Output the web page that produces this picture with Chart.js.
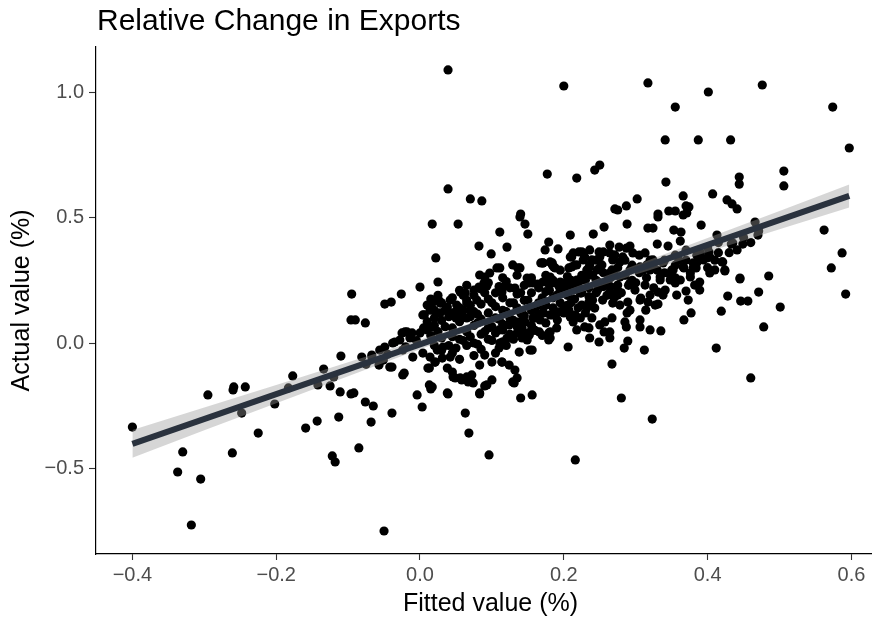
<!DOCTYPE html>
<html>
<head>
<meta charset="utf-8">
<script src="https://cdn.jsdelivr.net/npm/chart.js@4/dist/chart.umd.min.js"></script>
<style>
  html, body { margin: 0; padding: 0; background: #ffffff; overflow: hidden; width: 872px; height: 619px; }
  #wrap { position: absolute; left: 0; top: 0; width: 890px; height: 619px; }
</style>
</head>
<body>
<div id="wrap"><canvas id="chart" width="890" height="619"></canvas></div>
<script>
// Relative change in exports: actual vs fitted values, with a linear fit and its 95% band.

const chartTitle = 'Relative Change in Exports';
const xTitle = 'Fitted value (%)';
const yTitle = 'Actual value (%)';
const xTickValues = [-0.4, -0.2, 0.0, 0.2, 0.4, 0.6];
const yTickValues = [-0.5, 0.0, 0.5, 1.0];

// Scattered observations well above the cloud
const upperTail = [
  [0.039,1.088],[0.200,1.024],[0.177,0.673],[0.218,0.657],[0.243,0.689],[0.250,0.709],
  [0.039,0.614],[0.070,0.574],[0.086,0.566],[0.140,0.514],
  [0.317,1.036],[0.476,1.028],[0.401,1.000],[0.355,0.940],[0.574,0.940],[0.341,0.809],
  [0.387,0.809],[0.432,0.809],[0.597,0.777],[0.342,0.641],[0.506,0.685],[0.506,0.626],
  [0.444,0.661],[0.444,0.633],[0.302,0.574],[0.287,0.546],[0.271,0.534],[0.275,0.530],
  [0.366,0.586],[0.407,0.594],[0.427,0.570],[0.434,0.554],[0.441,0.534],[0.331,0.514],
  [0.346,0.526],[0.355,0.526],[0.370,0.546],[0.374,0.542],[0.371,0.518],[0.366,0.510],
  [0.017,0.474],[0.053,0.474],[0.139,0.502],[0.146,0.474],[0.150,0.434],[0.111,0.442],
  [0.082,0.386],[0.121,0.382],[0.099,0.355],[0.022,0.339],[0.179,0.402],[0.174,0.371],
  [0.192,0.375],[0.209,0.430],[0.241,0.434],[0.256,0.462],[0.288,0.474],[0.317,0.458],
  [0.324,0.458],[0.353,0.450],[0.363,0.442],[0.331,0.502],[0.391,0.470],[0.413,0.430],
  [0.466,0.482],[0.471,0.446],[0.449,0.394],[0.433,0.394],[0.362,0.406],[0.345,0.386],
  [0.330,0.394],[0.313,0.359],[0.287,0.378],[0.264,0.390],[0.441,0.371],[0.435,0.398]
];

// Low-end observations (negative fitted values)
const lowerTail = [
  [-0.400,-0.335],[-0.295,-0.207],[-0.259,-0.175],[-0.260,-0.187],[-0.243,-0.175],
  [-0.183,-0.179],[-0.202,-0.243],[-0.248,-0.279],[-0.225,-0.359],[-0.261,-0.438],
  [-0.330,-0.434],[-0.337,-0.514],[-0.305,-0.542],[-0.318,-0.725],[-0.142,-0.167],
  [-0.125,-0.171],[-0.111,-0.195],[-0.096,-0.203],[-0.159,-0.339],[-0.143,-0.311],
  [-0.113,-0.295],[-0.122,-0.450],[-0.118,-0.474],[-0.177,-0.131],[-0.134,-0.104],
  [-0.110,-0.052],[-0.120,-0.135],[-0.095,0.195],[-0.096,0.092],
  [-0.092,-0.199],[-0.076,-0.235],[-0.065,-0.251],[-0.068,-0.315],[-0.039,-0.279],
  [-0.085,-0.418],[-0.050,-0.749],[-0.004,-0.207],[0.003,-0.255],[0.013,-0.167],
  [0.015,-0.183],[0.039,-0.203],[0.063,-0.279],[0.068,-0.359],[0.083,-0.203],
  [0.090,-0.171],[0.074,-0.159],[0.096,-0.446],[0.131,-0.159],[0.140,-0.219],
  [0.156,-0.207],[0.216,-0.466],[0.280,-0.219],[0.323,-0.303],
  [-0.067,-0.048],[-0.057,-0.088],[-0.049,-0.016],[-0.035,0.004],[-0.021,0.044],
  [-0.011,0.040],[-0.081,-0.056],[-0.039,-0.096],[-0.022,-0.120],
  [-0.040,0.163],[-0.049,0.155],[-0.026,0.195],[0.000,0.223],[0.025,0.243],
  [-0.090,0.092],[-0.076,0.080],[-0.075,-0.085],[-0.045,-0.045],[-0.020,-0.015],[-0.005,0.010],
  [-0.067,-0.056],[-0.056,-0.028],[-0.051,-0.068],[-0.042,-0.096],[-0.038,0.000],
  [-0.025,0.040],[-0.014,0.020],[-0.024,-0.127],[-0.018,0.044]
];

// Central cloud around the fit
const coreCloud = [
  [0.013,-0.100],[0.021,-0.076],[0.031,-0.060],[0.038,-0.100],[0.045,-0.116],[0.049,-0.139],
  [0.058,-0.147],[0.065,-0.135],[0.072,-0.127],[0.083,-0.088],[0.090,-0.048],[0.100,-0.076],
  [0.114,-0.076],[0.124,-0.088],[0.132,-0.108],[0.138,-0.036],[0.129,-0.155],[0.135,-0.139],
  [0.093,-0.167],[0.083,-0.199],[0.100,-0.147],[0.046,-0.135],[0.056,-0.139],[0.067,-0.155],
  [0.011,-0.100],[0.017,-0.175],[0.038,-0.199],[0.021,-0.076],[0.042,-0.056],[0.032,-0.016],
  [0.024,-0.028],[0.014,-0.056],[0.004,-0.040],[-0.010,-0.056],[-0.024,-0.028],[-0.028,0.012],
  [0.000,0.040],[0.010,0.052],[0.018,0.064],[0.004,0.112],[0.014,0.131],[0.028,0.120],
  [0.038,0.143],[0.028,0.159],[0.042,0.171],[0.051,0.151],[0.056,0.112],[0.070,0.131],
  [0.065,0.159],[0.079,0.171],[0.006,0.112],[0.010,0.151],[0.017,0.159],[0.026,0.171],
  [0.075,0.211],[0.082,0.223],[0.093,0.227],[0.056,0.203],[0.063,0.199],[0.115,0.223],
  [0.114,0.203],[0.132,0.219],[0.083,0.271],[0.097,0.279],[0.107,0.299],[0.129,0.311],
  [0.139,0.299],[0.089,0.239],[0.090,0.263],[0.136,0.299],[0.111,0.299],[0.168,0.319],
  [0.181,0.323],[0.186,0.303],[0.207,0.299],[0.171,0.319],[0.184,0.319],[0.188,0.299],
  [0.209,0.343],[0.218,0.311],[0.227,0.359],[0.232,0.291],[0.227,0.251],[0.218,0.239],
  [0.149,0.259],[0.157,0.239],[0.171,0.243],[0.184,0.239],[0.195,0.243],[0.204,0.223],
  [0.213,0.211],[0.223,0.199],[0.152,0.239],[0.164,0.235],[0.178,0.239],[0.193,0.227],
  [0.201,0.235],[0.209,0.239],[0.211,0.343],[0.221,0.363],[0.229,0.343],[0.239,0.331],
  [0.249,0.363],[0.253,0.311],[0.246,0.291],[0.213,0.359],[0.225,0.363],[0.236,0.371],
  [0.255,0.363],[0.264,0.359],[0.277,0.382],[0.292,0.386],[0.171,0.319],[0.184,0.311],
  [0.211,0.303],[0.227,0.331],[0.236,0.311],[0.250,0.343],[0.268,0.331],[0.282,0.343],
  [0.296,0.359],[0.324,0.331],[0.338,0.319],[0.352,0.291],[0.366,0.303],[0.380,0.319],
  [0.394,0.331],[0.403,0.343],[0.420,0.323],[0.424,0.291],[0.445,0.259],[0.421,0.323],
  [0.399,0.339],[0.402,0.363],[0.181,0.263],[0.199,0.239],[0.218,0.251],[0.236,0.271],
  [0.248,0.243],[0.264,0.279],[0.278,0.263],[0.292,0.291],[0.306,0.303],[0.320,0.291],
  [0.334,0.263],[0.348,0.271],[0.362,0.251],[0.376,0.263],[0.389,0.243],[0.403,0.279],
  [0.171,0.143],[0.181,0.112],[0.191,0.092],[0.199,0.131],[0.209,0.104],[0.213,0.084],
  [0.223,0.100],[0.229,0.064],[0.218,0.052],[0.232,0.139],[0.236,0.159],[0.181,0.044],
  [0.181,0.020],[0.206,-0.016],[0.153,0.044],[0.149,0.012],[0.156,-0.028],[0.115,0.000],
  [0.121,0.020],[0.135,0.040],[0.142,0.060],[0.115,0.052],[0.125,0.080],[0.143,0.092],
  [0.157,0.100],[0.167,0.092],[0.114,-0.076],[0.142,0.020],[0.152,0.032],[0.166,0.044],
  [0.179,0.040],[0.179,0.012],[0.153,-0.028],[0.111,0.000],[0.225,0.151],[0.235,0.163],
  [0.243,0.139],[0.239,0.100],[0.235,0.060],[0.236,0.020],[0.249,0.004],[0.256,0.044],
  [0.257,0.084],[0.207,0.131],[0.216,0.112],[0.193,0.124],[0.184,0.112],[0.172,0.120],
  [0.160,0.100],[0.146,0.084],[0.138,0.084],[0.124,0.072],[0.110,0.052],[0.096,0.072],
  [0.02,0.07],[0.02,0.10],[0.02,-0.01],[0.02,0.13],[0.03,0.02],[0.03,0.09],[0.03,0.16],
  [0.03,-0.03],[0.045,0.06],[0.045,0.12],[0.045,0.18],[0.045,-0.04],[0.045,0.025],
  [0.055,0.015],[0.055,0.085],[0.055,0.14],[0.055,0.21],[0.055,-0.065],[0.065,0.045],
  [0.065,0.10],[0.065,0.17],[0.065,0.23],[0.065,-0.01],[0.075,0.0],[0.075,0.07],
  [0.075,0.125],[0.075,0.19],[0.075,-0.05],[0.085,0.035],[0.085,0.095],[0.085,0.155],
  [0.085,0.215],[0.085,-0.025],[0.095,0.015],[0.095,0.06],[0.095,0.12],[0.095,0.175],
  [0.095,0.24],[0.105,0.04],[0.105,0.10],[0.105,0.145],[0.105,0.20],[0.105,-0.04],
  [0.115,0.075],[0.115,0.13],[0.115,0.18],[0.115,0.26],[0.115,0.005],[0.125,0.10],
  [0.125,0.16],[0.125,0.22],[0.125,0.035],[0.135,0.065],[0.135,0.14],[0.135,0.195],
  [0.135,0.27],[0.145,0.11],[0.145,0.17],[0.145,0.23],[0.145,0.04],[0.155,0.13],
  [0.155,0.20],[0.155,0.26],[0.155,0.07],[0.165,0.16],[0.165,0.22],[0.165,0.115],
  [0.175,0.15],[0.175,0.205],[0.175,0.27],[0.175,0.08],[0.185,0.18],[0.185,0.25],
  [0.185,0.14],[0.195,0.16],[0.195,0.21],[0.195,0.29],[0.205,0.19],[0.205,0.265],
  [0.205,0.15],[0.215,0.175],[0.215,0.23],[0.215,0.31],[0.225,0.20],[0.225,0.27],
  [0.235,0.22],[0.235,0.185],[0.235,0.30],[0.245,0.25],[0.245,0.20],[0.245,0.33],
  [0.255,0.225],[0.255,0.28],[0.265,0.26],[0.265,0.225],[0.275,0.30],[0.275,0.21],
  [0.285,0.27],[0.285,0.33],[0.295,0.25],[0.295,0.31],[0.305,0.28],[0.305,0.35],
  [0.315,0.26],[0.315,0.31],[0.325,0.30],[0.325,0.22],[0.34,0.28],[0.34,0.33],
  [0.355,0.31],[0.355,0.35],[0.355,0.26],[0.37,0.33],[0.37,0.37],[0.385,0.35],
  [0.385,0.32],[0.40,0.38],[0.40,0.30],[0.415,0.36],[0.415,0.40]
];

// Extra observations packed into the densest part of the cloud
const denseCore = [
  [0.005,0.06],[0.010,0.085],[0.015,0.03],[0.025,0.045],[0.035,0.065],[0.040,0.105],
  [0.050,0.125],[0.060,0.13],[0.070,0.105],[0.080,0.08],[0.090,0.045],[0.100,0.065],
  [0.110,0.095],[0.120,0.125],[0.130,0.16],[0.140,0.20],[0.150,0.17],[0.160,0.14],
  [0.170,0.18],[0.180,0.21],[0.190,0.19],[0.200,0.22],[0.210,0.25],[0.220,0.23],
  [0.230,0.25],[0.240,0.27],[0.250,0.30],[0.260,0.24],[0.270,0.28],[0.080,0.115],
  [0.100,0.16],[0.110,0.225],[0.120,0.245],[0.060,0.19],[0.070,0.15],[0.050,0.10],
  [0.035,0.13],[0.025,0.19],[0.015,0.175],[0.090,0.20],[0.130,0.09],[0.140,0.12],
  [0.160,0.05],[0.170,0.03],[0.190,0.06],[0.200,0.12],[0.210,0.16],[0.220,0.14],
  [0.230,0.12],[0.240,0.17],[0.260,0.19],[0.270,0.18],[0.280,0.20],[0.290,0.23],
  [0.300,0.24],[0.310,0.29],[0.320,0.33],[0.330,0.29],[0.350,0.29],[0.360,0.33],
  [0.380,0.30],[0.390,0.36],[0.410,0.33],[0.430,0.36],[0.450,0.42],[0.460,0.40],
  [0.470,0.43],[0.060,0.01],[0.070,0.025],[0.080,-0.005],[0.100,0.01],[0.110,-0.02],
  [0.120,-0.01],[0.130,0.015],[0.040,-0.01],[0.050,-0.02]
];

// Right side of the cloud (high fitted values)
const rightCloud = [
  [0.562,0.450],[0.587,0.359],[0.572,0.299],[0.592,0.195],[0.485,0.267],[0.445,0.255],
  [0.471,0.203],[0.428,0.187],[0.446,0.167],[0.456,0.167],[0.501,0.143],[0.419,0.127],
  [0.478,0.064],[0.412,-0.020],[0.460,-0.139],[0.377,0.120],[0.367,0.092],[0.357,0.191],
  [0.370,0.207],[0.335,0.048],[0.306,0.064],[0.287,0.064],[0.288,0.120],[0.314,0.131],
  [0.331,0.155],[0.289,0.008],[0.284,-0.020],[0.312,-0.028],[0.264,0.044],[0.267,-0.084],
  [0.424,0.287],[0.384,0.299],[0.376,0.279],[0.367,0.299],[0.355,0.239],[0.348,0.251],
  [0.331,0.203],[0.338,0.191],[0.317,0.163],[0.307,0.179],[0.289,0.163],[0.275,0.191],
  [0.268,0.159],[0.264,0.203],[0.271,0.351],[0.278,0.323],[0.267,0.291],[0.285,0.271],
  [0.292,0.239],[0.275,0.231],[0.261,0.251],[0.299,0.211],[0.313,0.231],[0.320,0.191],
  [0.306,0.171],[0.327,0.151],[0.278,0.151],[0.292,0.131],[0.267,0.100],[0.285,0.084],
  [0.306,0.092],[0.320,0.052],[0.264,0.020],[0.250,0.072],[0.247,0.211],[0.254,0.171],
  [0.334,0.251],[0.341,0.211],[0.382,0.231],[0.389,0.211],[0.373,0.171],[0.410,0.291]
];

// Linear fit and its confidence band
const fitX = [-0.4, 0.597];
const fitY = [-0.402, 0.586];
const bandX = [-0.4, -0.3, -0.2, -0.1, 0.0, 0.1, 0.2, 0.3, 0.4, 0.5, 0.597];
const bandLow = [-0.457, -0.348, -0.240, -0.132, -0.025, 0.080, 0.180, 0.273, 0.363, 0.453, 0.540];
const bandHigh = [-0.347, -0.257, -0.167, -0.077, 0.013, 0.106, 0.206, 0.311, 0.418, 0.526, 0.631];

const FONT = '"Liberation Sans", Arial, Helvetica, sans-serif';

const toPoints = (pairs) => pairs.map(([x, y]) => ({ x, y }));
const observations = toPoints([...upperTail, ...lowerTail, ...coreCloud, ...denseCore, ...rightCloud]);

const fmtTick = (v) => {
  const s = Math.abs(v).toFixed(1);
  return v < -1e-9 ? '\u2212' + s : s;
};

const titlePlugin = {
  id: 'plotTitle',
  afterDraw(chart) {
    const ctx = chart.ctx;
    ctx.save();
    ctx.font = '30px ' + FONT;
    ctx.fillStyle = '#000000';
    ctx.textAlign = 'left';
    ctx.textBaseline = 'alphabetic';
    ctx.fillText(chartTitle, 97, 30);
    ctx.restore();
  }
};

new Chart(document.getElementById('chart'), {
  type: 'scatter',
  data: {
    datasets: [
      {
        label: 'observations',
        type: 'scatter',
        data: observations,
        backgroundColor: '#000000',
        borderWidth: 0,
        pointRadius: 4.6,
        pointHoverRadius: 4.6,
        order: 3
      },
      {
        label: 'band upper',
        type: 'line',
        data: bandX.map((x, i) => ({ x, y: bandHigh[i] })),
        borderWidth: 0,
        borderColor: 'rgba(0,0,0,0)',
        pointRadius: 0,
        fill: false,
        order: 2
      },
      {
        label: 'band lower',
        type: 'line',
        data: bandX.map((x, i) => ({ x, y: bandLow[i] })),
        borderWidth: 0,
        borderColor: 'rgba(0,0,0,0)',
        backgroundColor: 'rgba(153,153,153,0.4)',
        pointRadius: 0,
        fill: '-1',
        order: 1
      },
      {
        label: 'fit',
        type: 'line',
        data: fitX.map((x, i) => ({ x, y: fitY[i] })),
        borderColor: '#2a323e',
        borderWidth: 6,
        borderCapStyle: 'butt',
        pointRadius: 0,
        fill: false,
        order: 0
      }
    ]
  },
  options: {
    responsive: false,
    animation: false,
    events: [],
    layout: { padding: { top: 47, left: 0, right: 5, bottom: 0 } },
    plugins: {
      legend: { display: false },
      tooltip: { enabled: false },
      title: { display: false }
    },
    scales: {
      x: {
        type: 'linear',
        min: -0.4506,
        max: 0.6467,
        afterBuildTicks: (scale) => { scale.ticks = xTickValues.map(v => ({ value: v })); },
        afterFit: (scale) => { scale.height = 65; },
        border: { display: true, color: '#000000', width: 1.2 },
        grid: { drawOnChartArea: false, drawTicks: true, tickLength: 6, tickColor: '#333333', tickWidth: 1.1 },
        ticks: {
          color: '#4d4d4d',
          font: { family: FONT, size: 20 },
          padding: 3,
          maxRotation: 0,
          autoSkip: false,
          callback: (v) => fmtTick(v)
        },
        title: {
          display: true,
          text: xTitle,
          color: '#000000',
          font: { family: FONT, size: 25 },
          padding: { top: 0, bottom: 0 }
        }
      },
      y: {
        type: 'linear',
        min: -0.8406,
        max: 1.1793,
        afterBuildTicks: (scale) => { scale.ticks = yTickValues.map(v => ({ value: v })); },
        afterFit: (scale) => { scale.width = 96; },
        border: { display: true, color: '#000000', width: 1.2 },
        grid: { drawOnChartArea: false, drawTicks: true, tickLength: 7, tickColor: '#333333', tickWidth: 1.1 },
        ticks: {
          color: '#4d4d4d',
          font: { family: FONT, size: 20 },
          padding: 5,
          autoSkip: false,
          callback: (v) => fmtTick(v)
        },
        title: {
          display: true,
          text: yTitle,
          color: '#000000',
          font: { family: FONT, size: 25 },
          padding: { top: 7, bottom: 0 }
        }
      }
    }
  },
  plugins: [titlePlugin]
});
</script>
</body>
</html>
